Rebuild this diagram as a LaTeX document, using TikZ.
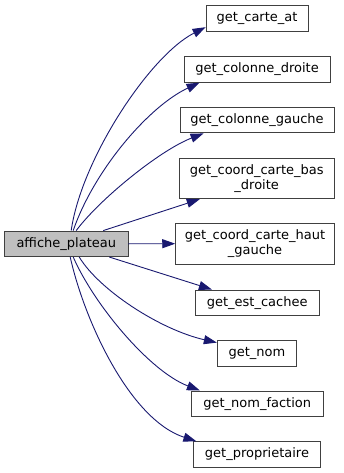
\documentclass[tikz,border=0pt]{standalone}
\usepackage{fontspec}
\setmainfont{DejaVu Sans}
\usetikzlibrary{arrows.meta}
\definecolor{edgeblue}{HTML}{191970}
\definecolor{boxline}{HTML}{404040}
\definecolor{rootfill}{HTML}{BFBFBF}
\begin{document}
\begin{tikzpicture}[x=1pt,y=-1pt,
  fn/.style={draw=boxline, line width=0.9pt, fill=white, inner sep=0pt,
    align=center, font=\fontsize{13}{15}\selectfont, minimum height=25.5pt},
  fn2/.style={fn, minimum height=40.5pt},
  root/.style={fn, fill=rootfill},
  call/.style={draw=edgeblue, line width=0.9pt,
    -{Triangle[length=13pt,width=9pt]}, fill=none}]
  \useasboundingbox (0,0) rectangle (344,473);

  % caller
  \node[root, minimum width=123.3pt] (ap) at (66.3,243.8) {affiche\_plateau};

  % callees
  \node[fn,  minimum width=102pt]   (ca) at (257,18.5)   {get\_carte\_at};
  \node[fn,  minimum width=146pt]   (cd) at (257,69.5)   {get\_colonne\_droite};
  \node[fn,  minimum width=154pt]   (cg) at (257,120.2)  {get\_colonne\_gauche};
  \node[fn2, minimum width=155pt]   (bd) at (256.7,178.5) {get\_coord\_carte\_bas\\\_droite};
  \node[fn2, minimum width=158.6pt] (hg) at (255,243.7)  {get\_coord\_carte\_haut\\\_gauche};
  \node[fn,  minimum width=123.7pt] (ec) at (257.2,302.7) {get\_est\_cachee};
  \node[fn,  minimum width=79.4pt]  (gn) at (257,353.3)  {get\_nom};
  \node[fn,  minimum width=131.7pt] (nf) at (257.2,403.7) {get\_nom\_faction};
  \node[fn,  minimum width=127.4pt] (pr) at (257,454.5)  {get\_proprietaire};

  % call edges
  \draw[call] ([xshift=67pt]ap.north west) .. controls +(10,-71) and +(-56,28.5) .. ([yshift=4.5pt]ca.south west);
  \draw[call] ([xshift=69pt]ap.north west) .. controls +(21,-61) and +(-50,23) .. ([xshift=16pt]cd.south west);
  \draw[call] ([xshift=72pt]ap.north west) .. controls +(23,-31) and +(-44,17) .. ([xshift=24pt]cg.south west);
  \draw[call] ([xshift=99pt]ap.north west) -- ([xshift=21pt]bd.south west);
  \draw[call] (ap.east) -- (hg.west);
  \draw[call] ([xshift=105pt]ap.south west) -- ([xshift=17pt]ec.north west);
  \draw[call] ([xshift=75pt]ap.south west) .. controls +(20,33) and +(-57,-13) .. ([yshift=-2.5pt]gn.north west);
  \draw[call] ([xshift=69pt]ap.south west) .. controls +(21,48) and +(-50,-19) .. ([xshift=9pt]nf.north west);
  \draw[call] ([xshift=66pt]ap.south west) .. controls +(14,63) and +(-67,-22) .. ([xshift=3.5pt]pr.north west);
\end{tikzpicture}
\end{document}
